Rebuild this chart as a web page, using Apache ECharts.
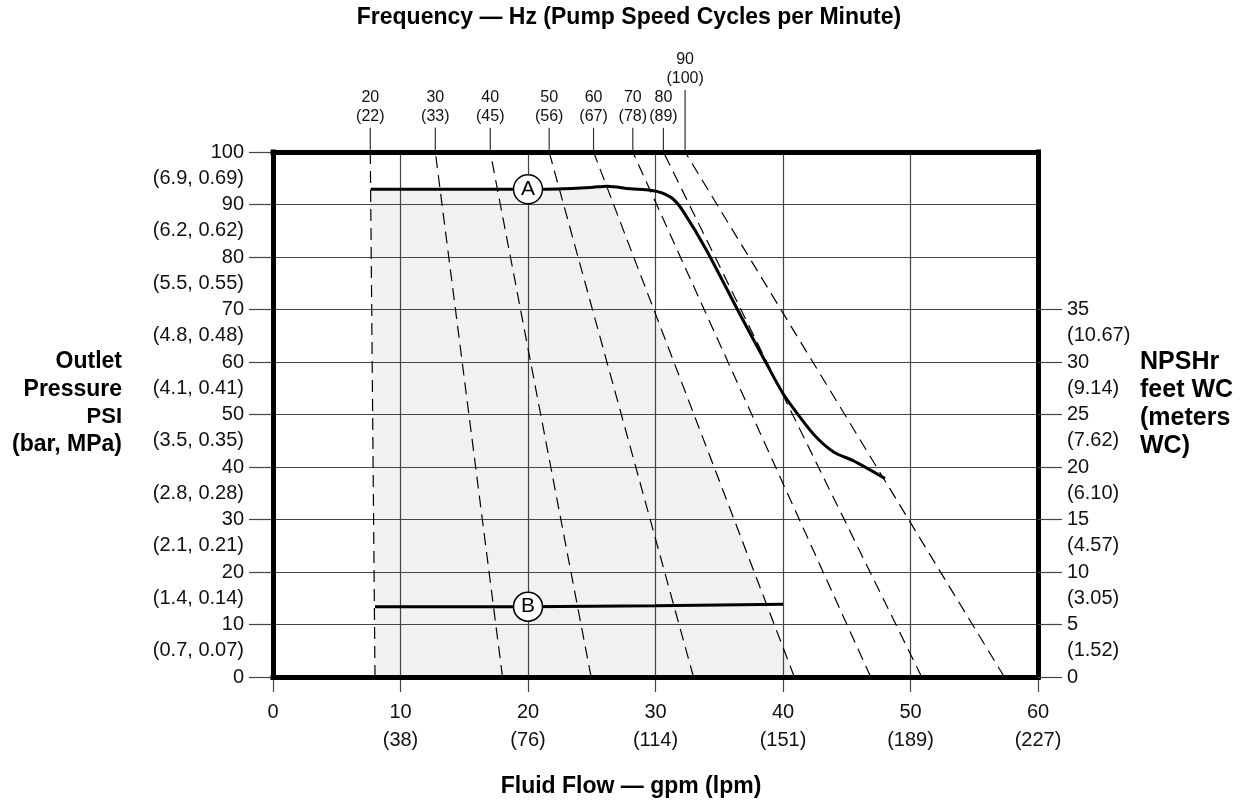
<!DOCTYPE html>
<html>
<head>
<meta charset="utf-8">
<script src="https://cdn.jsdelivr.net/npm/echarts@6/dist/echarts.min.js"></script>
<style>
  html, body { margin: 0; padding: 0; background: #fff; }
  #chart { width: 1248px; height: 805px; }
</style>
</head>
<body>
<div id="chart"></div>
<script>
// flow axis (gpm) with lpm underneath
var flowTicks = [0, 10, 20, 30, 40, 50, 60];
var flowLpm = ['', '38', '76', '114', '151', '189', '227'];

// outlet pressure (psi) with (bar, MPa) written under each tick
var psiTicks = [0, 10, 20, 30, 40, 50, 60, 70, 80, 90, 100];
var barMpa = ['', '(0.7, 0.07)', '(1.4, 0.14)', '(2.1, 0.21)', '(2.8, 0.28)', '(3.5, 0.35)',
  '(4.1, 0.41)', '(4.8, 0.48)', '(5.5, 0.55)', '(6.2, 0.62)', '(6.9, 0.69)'];

// NPSHr feet WC with meters WC under each tick
var npshTicks = [0, 5, 10, 15, 20, 25, 30, 35];
var npshMeters = ['', '(1.52)', '(3.05)', '(4.57)', '(6.10)', '(7.62)', '(9.14)', '(10.67)'];

// frequency lines: Hz, (cycles per minute), flow at 100 psi and at 0 psi
var freqHz = [20, 30, 40, 50, 60, 70, 80, 90];
var freqCpm = [22, 33, 45, 56, 67, 78, 89, 100];
var freqTopFlow = [7.63, 12.73, 17.04, 21.66, 25.14, 28.22, 30.62, 32.32];
var freqBottomFlow = [8.0, 18.0, 24.95, 32.98, 40.89, 46.88, 50.88, 57.36];

// curve A (outlet pressure) and curve B (NPSHr), [gpm, psi]
var curveA = [[7.66, 92.9], [20, 92.9], [22.3, 92.95], [24.9, 93.25], [26.2, 93.5],
  [28, 93.0], [29.6, 92.7], [30.5, 92.2], [31.4, 91.0], [32.2, 88.6], [34.0, 81.3],
  [36.6, 69.2], [38.7, 59.7], [40.0, 54.0], [41.3, 49.6], [42.6, 45.7], [44.0, 42.8],
  [45.5, 41.2], [48.0, 37.8]];
var curveB = [[8.0, 13.4], [20, 13.4], [30, 13.55], [40.0, 13.85]];

var curveTags = [['A', 20, 92.9], ['B', 20, 13.4]];

var FONT = '"Liberation Sans", Arial, sans-serif';

// shaded operating area: under A up to the 60 Hz line, between the 20 Hz and 60 Hz lines
var shadePoly = curveA.filter(function (p) { return p[0] <= 26.2; })
  .concat([[freqBottomFlow[4], 0], [freqBottomFlow[0], 0]]);

var series = [];

series.push({
  type: 'custom',
  z: -1,
  silent: true,
  data: [0],
  renderItem: function (params, api) {
    var pts = shadePoly.map(function (p) { return api.coord(p); });
    return { type: 'polygon', shape: { points: pts }, style: { fill: '#f1f1f1' } };
  }
});

freqHz.forEach(function (hz, i) {
  series.push({
    type: 'line',
    symbol: 'none',
    silent: true,
    lineStyle: { color: '#000', width: 1.2, type: [12, 7] },
    data: [[freqBottomFlow[i], 0], [freqTopFlow[i], 100]]
  });
  // the 90 Hz label sits higher to clear the 80 Hz one
  var tickLen = (i === freqHz.length - 1) ? 11.8 : 4.6;
  series.push({
    type: 'line',
    symbol: 'circle',
    symbolSize: 0.01,
    showSymbol: true,
    silent: true,
    clip: false,
    itemStyle: { color: '#333' },
    lineStyle: { color: '#333', width: 1.2 },
    label: {
      show: false,
      position: 'top',
      distance: 2,
      fontFamily: FONT,
      fontSize: 16,
      lineHeight: 19,
      color: '#111',
      formatter: hz + '\n(' + freqCpm[i] + ')'
    },
    data: [[freqTopFlow[i], 100], { value: [freqTopFlow[i], 100 + tickLen], label: { show: true } }]
  });
});

series.push({
  type: 'line',
  symbol: 'none',
  silent: true,
  smooth: 0.3,
  lineStyle: { color: '#000', width: 3 },
  data: curveA
});
series.push({
  type: 'line',
  symbol: 'none',
  silent: true,
  lineStyle: { color: '#000', width: 3 },
  data: curveB
});
series.push({
  type: 'scatter',
  symbol: 'circle',
  symbolSize: 29,
  silent: true,
  z: 5,
  itemStyle: { color: '#fff', borderColor: '#000', borderWidth: 1.5, opacity: 1 },
  label: {
    show: true,
    position: 'inside',
    fontFamily: FONT,
    fontSize: 21,
    color: '#000',
    formatter: function (p) { return p.data[2]; }
  },
  data: curveTags.map(function (t) { return [t[1], t[2], t[0]]; })
});

var frameLine = { show: true, onZero: false, lineStyle: { color: '#000', width: 5, cap: 'square' } };

function text(x, y, str, size, align) {
  return {
    type: 'text', x: x, y: y, silent: true,
    style: {
      text: str, fill: '#000', textAlign: align || 'center', verticalAlign: 'middle',
      font: 'bold ' + size + 'px ' + FONT
    }
  };
}

var option = {
  animation: false,
  backgroundColor: '#fff',
  grid: { left: 273, right: 210, top: 152, bottom: 128, outerBoundsMode: 'none' },
  graphic: [
    text(629, 18, 'Frequency \u2014 Hz (Pump Speed Cycles per Minute)', 23),
    text(631, 787, 'Fluid Flow \u2014 gpm (lpm)', 23),
    text(122, 362, 'Outlet', 23, 'right'),
    text(122, 390, 'Pressure', 23, 'right'),
    text(122, 417, 'PSI', 22, 'right'),
    text(122, 445, '(bar, MPa)', 23, 'right'),
    text(1140, 362, 'NPSHr', 25, 'left'),
    text(1140, 390, 'feet WC', 25, 'left'),
    text(1140, 418, '(meters', 25, 'left'),
    text(1140, 446, 'WC)', 25, 'left')
  ],
  xAxis: [
    {
      type: 'value', min: 0, max: 60, interval: 10, position: 'bottom',
      axisLine: { show: false, onZero: false },
      axisTick: { show: true, length: 15, lineStyle: { color: '#444', width: 1.2 } },
      splitLine: { show: true, lineStyle: { color: '#444', width: 1.2 } },
      axisLabel: {
        margin: 21, fontFamily: FONT, fontSize: 20, lineHeight: 28, color: '#111',
        formatter: function (v) {
          var i = flowTicks.indexOf(v);
          return flowLpm[i] ? v + '\n(' + flowLpm[i] + ')' : String(v);
        }
      }
    },
    {
      type: 'value', min: 0, max: 60, position: 'bottom', z: 10,
      axisLine: frameLine, axisTick: { show: false }, axisLabel: { show: false }, splitLine: { show: false }
    },
    {
      type: 'value', min: 0, max: 60, position: 'top', z: 10,
      axisLine: frameLine, axisTick: { show: false }, axisLabel: { show: false }, splitLine: { show: false }
    }
  ],
  yAxis: [
    {
      type: 'value', min: 0, max: 100, interval: 10, position: 'left',
      axisLine: { show: false, onZero: false },
      axisTick: { show: true, length: 24, lineStyle: { color: '#444', width: 1.2 } },
      splitLine: { show: true, lineStyle: { color: '#444', width: 1.2 } },
      axisLabel: {
        margin: 29, fontFamily: FONT, fontSize: 20, color: '#111',
        customValues: psiTicks.concat(psiTicks.slice(1).map(function (v) { return v - 5; })),
        formatter: function (v) {
          if (v % 10 === 0) return String(v);
          return barMpa[psiTicks.indexOf(v + 5)];
        }
      }
    },
    {
      type: 'value', min: 0, max: 100, position: 'left', z: 10,
      axisLine: frameLine, axisTick: { show: false }, axisLabel: { show: false }, splitLine: { show: false }
    },
    {
      type: 'value', min: 0, max: 50, interval: 5, position: 'right', z: 10,
      axisLine: frameLine,
      axisTick: { show: true, length: 24, customValues: npshTicks, lineStyle: { color: '#444', width: 1.2 } },
      splitLine: { show: false },
      axisLabel: {
        margin: 29, fontFamily: FONT, fontSize: 20, color: '#111',
        customValues: npshTicks.concat(npshTicks.slice(1).map(function (v) { return v - 2.5; })),
        formatter: function (v) {
          if (v % 5 === 0) return String(v);
          return npshMeters[npshTicks.indexOf(v + 2.5)];
        }
      }
    }
  ],
  series: series
};

var chart = echarts.init(document.getElementById('chart'), null, { renderer: 'canvas' });
chart.setOption(option);
</script>
</body>
</html>
